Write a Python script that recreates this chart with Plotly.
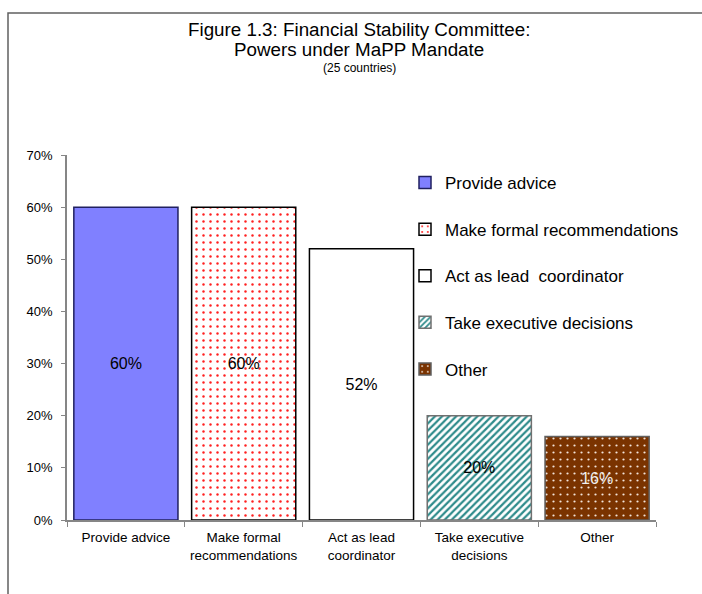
import plotly.graph_objects as go

# Chart data
categories = ["Provide advice", "Make formal<br>recommendations", "Act as lead<br>coordinator",
              "Take executive<br>decisions", "Other"]
legend_names = ["Provide advice", "Make formal recommendations", "Act as lead  coordinator",
                "Take executive decisions", "Other"]
shares = [60, 60, 52, 20, 16]  # percent of 25 countries

# Styles per bar
fills = ["#8080FF", "white", "white", "white", "#7A3300"]
pattern_shapes = ["", ".", "", "/", "."]
pattern_fg = ["#8080FF", "#FF2020", "white", "#2E8B8B", "#F2E4DA"]
pattern_sizes = [8, 7, 8, 5, 7]
pattern_solid = [0.3, 0.1, 0.3, 0.45, 0.08]
outlines = ["#202060", "#000000", "#000000", "#707070", "#606060"]
label_colors = ["black", "black", "black", "black", "#F0F0F0"]

FONT = "Liberation Sans, Arial, sans-serif"
W, H = 702, 594
ml, mr, mt, mb = 67, 46, 155, 74
pw, ph = W - ml - mr, H - mt - mb


def px_x(p):
    return (p - ml) / pw


def px_y(p):
    return (H - mb - p) / ph


fig = go.Figure()
for i, cat in enumerate(categories):
    fig.add_trace(go.Bar(
        x=[cat], y=[shares[i]], name=legend_names[i],
        legendgroup=f"g{i}",
        text=[f"{shares[i]}%"], textposition="inside", insidetextanchor="middle",
        constraintext="none",
        textfont=dict(size=16, color=label_colors[i], family=FONT),
        marker=dict(
            color=fills[i],
            line=dict(color=outlines[i], width=1.5),
            pattern=dict(shape=pattern_shapes[i], fgcolor=pattern_fg[i], bgcolor=fills[i],
                         size=pattern_sizes[i], solidity=pattern_solid[i], fillmode="replace"),
        ),
        hoverinfo="skip",
    ))

annotations = []
title_lines = [("Figure 1.3: Financial Stability Committee:", 30, 18.8),
               ("Powers under MaPP Mandate", 49, 18.8),
               ("(25 countries)", 68, 12)]
for text, ypx, size in title_lines:
    annotations.append(dict(x=px_x(359), y=px_y(ypx), xref="paper", yref="paper",
                            text=text, showarrow=False, xanchor="center", yanchor="middle",
                            font=dict(size=size, color="black", family=FONT)))

fig.update_layout(
    width=W, height=H,
    margin=dict(l=ml, r=mr, t=mt, b=mb, pad=0),
    paper_bgcolor="white", plot_bgcolor="white",
    bargap=0.116,
    showlegend=True,
    legend=dict(x=px_x(405), y=px_y(165), xanchor="left", yanchor="top",
                font=dict(size=17, color="black", family=FONT),
                tracegroupgap=21.5, bgcolor="rgba(0,0,0,0)", itemwidth=30),
    font=dict(family=FONT, color="black"),
    annotations=annotations,
    shapes=[dict(type="rect", xref="paper", yref="paper",
                 x0=px_x(8), x1=px_x(712), y0=px_y(610), y1=px_y(13),
                 line=dict(color="#606060", width=1.5), fillcolor="rgba(0,0,0,0)", layer="below")],
)

fig.update_xaxes(showline=True, linecolor="#868686", linewidth=1.5,
                 ticks="outside", tickson="boundaries", ticklen=5, tickcolor="#868686",
                 ticklabelstandoff=4,
                 tickfont=dict(size=13.5, color="black"), showgrid=False)
fig.update_yaxes(range=[0, 70], dtick=10, ticksuffix="%", showline=True, linecolor="#868686",
                 linewidth=1.5, ticks="outside", ticklen=4, tickcolor="#868686",
                 ticklabelstandoff=6,
                 tickfont=dict(size=13, color="black"), showgrid=False, zeroline=False)

fig.write_html("out.html")
